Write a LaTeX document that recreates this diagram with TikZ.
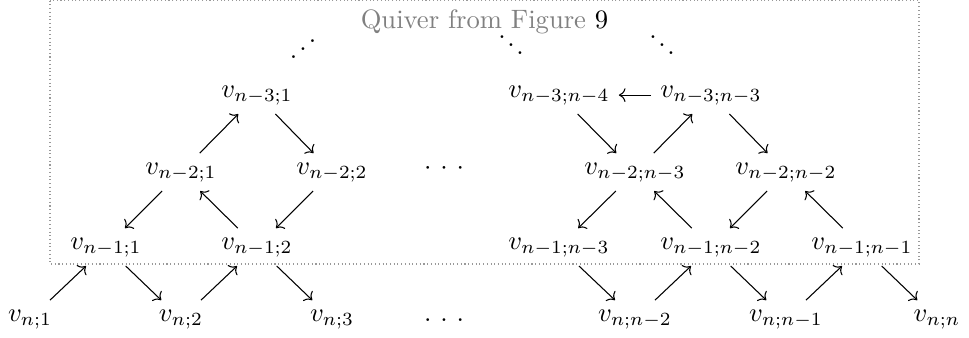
\documentclass[tikz,border=0pt]{standalone}
\usetikzlibrary{cd}
\newcommand\mydots{\ensuremath{\cdotp\mkern3mu\cdotp\mkern3mu\cdotp}}
\newcommand\myddots{\smash{\ensuremath{\raise7pt\hbox{.}\kern0.6pt\raise4pt\hbox{.}\kern0.6pt\raise1pt\hbox{.}}}}
\newcommand\myiddots{\smash{\ensuremath{\raise1pt\hbox{.}\kern0.8pt\raise4pt\hbox{.}\kern0.8pt\raise7pt\hbox{.}}}}
\newcommand\myldots{\ensuremath{\ldotp\mkern3mu\ldotp\mkern3mu\ldotp}}
\begin{document}
\begin{tikzpicture}[x=0.3759pt,y=-0.3759pt,
  v/.style={anchor=base},
  dotsnode/.style={anchor=base, inner sep=0pt},
  arr/.style={-{tikzcd to}, line width=0.4pt},
  frame/.style={densely dotted, draw=black!40, line width=0.4pt}]
\useasboundingbox (0,0) rectangle (969,337);
\draw[frame] (50,0.6) rectangle (919,264);
\node[v, text=black!50, inner sep=1pt] (title) at (484.5,28) {Quiver from Figure \textcolor{black}{9}};
% dots
\node[dotsnode] (id1) at (303,61) {\myiddots};
\node[dotsnode] (dd1) at (511,57) {\myddots};
\node[dotsnode] (dd2) at (662,57) {\myddots};
% row n-3
\node[v] (a1) at (257,97) {$v_{n-3;1}$};
\node[v] (a2) at (559,97) {$v_{n-3;n-4}$};
\node[v] (a3) at (711,97) {$v_{n-3;n-3}$};
% row n-2
\node[v] (b1) at (181,174) {$v_{n-2;1}$};
\node[v] (b2) at (332,174) {$v_{n-2;2}$};
\node[v] (bd) at (444,174) {\mydots};
\node[v] (b3) at (635,174) {$v_{n-2;n-3}$};
\node[v] (b4) at (786,174) {$v_{n-2;n-2}$};
% row n-1
\node[v] (c1) at (106,249) {$v_{n-1;1}$};
\node[v] (c2) at (257,249) {$v_{n-1;2}$};
\node[v] (c3) at (559,249) {$v_{n-1;n-3}$};
\node[v] (c4) at (711,249) {$v_{n-1;n-2}$};
\node[v] (c5) at (862,249) {$v_{n-1;n-1}$};
% row n
\node[v] (d1) at (30,321) {$v_{n;1}$};
\node[v] (d2) at (181,321) {$v_{n;2}$};
\node[v] (d3) at (332,321) {$v_{n;3}$};
\node[v] (dd) at (444,321) {\myldots};
\node[v] (d4) at (635,321) {$v_{n;n-2}$};
\node[v] (d5) at (786,321) {$v_{n;n-1}$};
\node[v] (d6) at (937,321) {$v_{n;n}$};
% arrows rows n / n-1
\draw[arr] (d1) -- (c1);
\draw[arr] (c1) -- (d2);
\draw[arr] (d2) -- (c2);
\draw[arr] (c2) -- (d3);
\draw[arr] (c3) -- (d4);
\draw[arr] (d4) -- (c4);
\draw[arr] (c4) -- (d5);
\draw[arr] (d5) -- (c5);
\draw[arr] (c5) -- (d6);
% rows n-1 / n-2
\draw[arr] (b1) -- (c1);
\draw[arr] (c2) -- (b1);
\draw[arr] (b2) -- (c2);
\draw[arr] (b3) -- (c3);
\draw[arr] (c4) -- (b3);
\draw[arr] (b4) -- (c4);
\draw[arr] (c5) -- (b4);
% rows n-2 / n-3
\draw[arr] (b1) -- (a1);
\draw[arr] (a1) -- (b2);
\draw[arr] (a2) -- (b3);
\draw[arr] (b3) -- (a3);
\draw[arr] (a3) -- (b4);
\draw[arr] (a3) -- (a2);
\end{tikzpicture}
\end{document}
